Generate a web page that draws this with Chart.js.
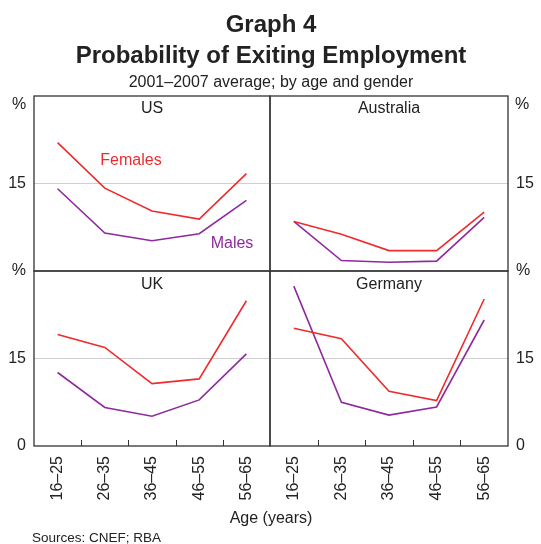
<!DOCTYPE html>
<html>
<head>
<meta charset="utf-8">
<script src="https://cdn.jsdelivr.net/npm/chart.js@4/dist/chart.umd.min.js"></script>
<style>
  body { margin: 0; background: #fff; }
  #wrap { position: relative; width: 541px; height: 544px; font-family: 'Liberation Sans', Arial, sans-serif; color: #222; }
  #wrap canvas { position: absolute; left: 0; top: 0; }
  .t { position: absolute; white-space: nowrap; line-height: 1; }
  .c { transform: translateX(-50%); }
</style>
</head>
<body>
<div id="wrap">
  <canvas id="us" width="541" height="544"></canvas>
  <canvas id="aus" width="541" height="544"></canvas>
  <canvas id="uk" width="541" height="544"></canvas>
  <canvas id="de" width="541" height="544"></canvas>

  <div class="t c" style="left:271px;top:12px;font-size:24px;font-weight:bold;">Graph 4</div>
  <div class="t c" style="left:271px;top:43px;font-size:24px;font-weight:bold;">Probability of Exiting Employment</div>
  <div class="t c" style="left:271px;top:74px;font-size:16px;">2001–2007 average; by age and gender</div>

  <div class="t" style="left:12px;top:96px;font-size:16px;">%</div>
  <div class="t" style="left:515px;top:96px;font-size:16px;">%</div>

  <div class="t c" style="left:152px;top:100px;font-size:16px;">US</div>
  <div class="t c" style="left:389px;top:100px;font-size:16px;">Australia</div>
  <div class="t c" style="left:152px;top:276px;font-size:16px;">UK</div>
  <div class="t c" style="left:389px;top:276px;font-size:16px;">Germany</div>

  <div class="t c" style="left:131px;top:152px;font-size:16px;color:#ef2b2d;">Females</div>
  <div class="t c" style="left:232px;top:235px;font-size:16px;color:#8e2a9e;">Males</div>

  <div class="t c" style="left:271px;top:510px;font-size:16px;">Age (years)</div>
  <div class="t" style="left:32px;top:531px;font-size:13.5px;">Sources: CNEF; RBA</div>
</div>

<script>
// Age bands on the x axis
const ageGroups = ['16–25', '26–35', '36–45', '46–55', '56–65'];

// Probability of exiting employment, per cent
const usFemales = [22.0, 14.2, 10.3, 8.9, 16.7];
const usMales = [14.1, 6.5, 5.2, 6.4, 12.1];
const ausFemales = [8.5, 6.3, 3.5, 3.5, 10.1];
const ausMales = [8.5, 1.8, 1.5, 1.7, 9.2];
const ukFemales = [19.1, 16.9, 10.7, 11.5, 24.9];
const ukMales = [12.6, 6.6, 5.1, 7.9, 15.8];
const deFemales = [20.2, 18.4, 9.4, 7.8, 25.2];
const deMales = [27.4, 7.5, 5.3, 6.7, 21.6];

const FONT = "'Liberation Sans', Arial, sans-serif";
const RED = '#ef2b2d';
const PURPLE = '#8e2a9e';

// Frame round each panel plus the small inward ticks on the bottom panels
const framePlugin = {
    id: 'frame',
    afterDraw(chart, args, opts) {
        const { ctx, chartArea: a } = chart;
        ctx.save();
        ctx.strokeStyle = '#333';
        ctx.lineWidth = 1.3;
        ctx.strokeRect(a.left, a.top, a.right - a.left, a.bottom - a.top);
        if (opts.ticks) {
            const xs = chart.scales.x;
            ctx.lineWidth = 1;
            for (let i = 0; i < ageGroups.length - 1; i++) {
                const x = Math.round((xs.getPixelForValue(i) + xs.getPixelForValue(i + 1)) / 2) + 0.5;
                ctx.beginPath();
                ctx.moveTo(x, a.bottom);
                ctx.lineTo(x, a.bottom - 6);
                ctx.stroke();
            }
        }
        ctx.restore();
    }
};

function makePanel(id, females, males, isLeft, isTop) {
    const ctx = document.getElementById(id).getContext('2d');
    return new Chart(ctx, {
        type: 'line',
        data: {
            labels: ageGroups,
            datasets: [
                { label: 'Females', data: females, borderColor: RED },
                { label: 'Males', data: males, borderColor: PURPLE }
            ]
        },
        options: {
            responsive: false,
            animation: false,
            events: [],
            layout: {
                padding: {
                    left: isLeft ? 0 : 270,
                    right: isLeft ? 271 : 0,
                    top: isTop ? 96 : 271,
                    bottom: isTop ? 273 : 38
                }
            },
            elements: {
                point: { radius: 0 },
                line: { borderWidth: 1.6, tension: 0 }
            },
            plugins: {
                legend: { display: false },
                tooltip: { enabled: false },
                frame: { ticks: !isTop }
            },
            scales: {
                x: {
                    offset: true,
                    display: !isTop,
                    grid: { display: false },
                    border: { display: false },
                    ticks: {
                        color: '#222',
                        font: { family: FONT, size: 16 },
                        minRotation: 90,
                        maxRotation: 90,
                        autoSkip: false,
                        padding: 2
                    },
                    afterFit: (scale) => { scale.height = isTop ? 0 : 60; }
                },
                y: {
                    position: isLeft ? 'left' : 'right',
                    min: 0,
                    max: 30,
                    border: { display: false },
                    grid: {
                        drawTicks: false,
                        lineWidth: 1,
                        color: (c) => c.tick && c.tick.value === 15 ? '#cfcfcf' : 'rgba(0,0,0,0)'
                    },
                    ticks: {
                        stepSize: 15,
                        color: '#222',
                        padding: 8,
                        font: { family: FONT, size: 16 },
                        callback: (v) => {
                            if (v === 30) return '';
                            if (v === 0) return isTop ? '%' : '0';
                            return String(v);
                        }
                    },
                    afterFit: (scale) => { scale.width = isLeft ? 34 : 33; }
                }
            }
        },
        plugins: [framePlugin]
    });
}

makePanel('us', usFemales, usMales, true, true);
makePanel('aus', ausFemales, ausMales, false, true);
makePanel('uk', ukFemales, ukMales, true, false);
makePanel('de', deFemales, deMales, false, false);
</script>
</body>
</html>
